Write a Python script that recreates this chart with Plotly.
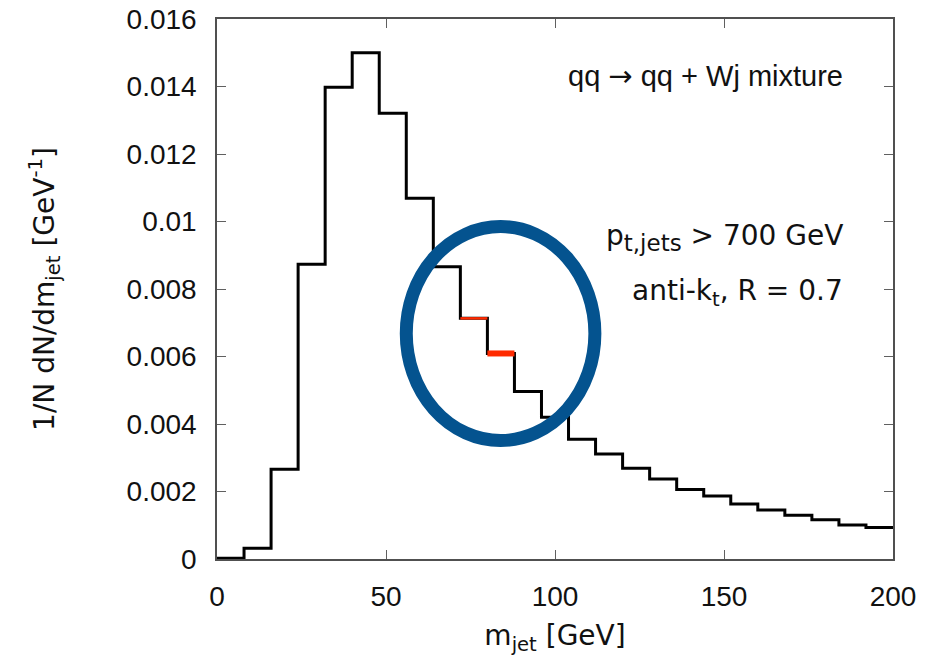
import plotly.graph_objects as go

# bin edges (GeV) and normalised histogram values (1/GeV)
bin_edges = [0, 8, 16, 24, 32, 40, 48, 56, 64, 72, 80, 88, 96, 104, 112, 120,
             128, 136, 144, 152, 160, 168, 176, 184, 192, 200]
values = [0.00002, 0.00032, 0.00266, 0.00873, 0.01398, 0.01500, 0.01321, 0.01069,
          0.00866, 0.00713, 0.00609, 0.00496, 0.00420, 0.00355, 0.00311, 0.00269,
          0.00237, 0.00206, 0.00187, 0.00163, 0.00145, 0.00130, 0.00116, 0.00101,
          0.00093]
highlight_bins = [9, 10]          # bins drawn in red
highlight_widths = [2.5, 6]

x_ticks = [0, 50, 100, 150, 200]
y_ticks = [0, 0.002, 0.004, 0.006, 0.008, 0.01, 0.012, 0.014, 0.016]
y_ticktext = ["0", "0.002", "0.004", "0.006", "0.008", "0.01", "0.012", "0.014", "0.016"]

# highlighting ellipse (data coordinates)
ellipse_x = [56.0, 111.8]
ellipse_y = [0.00351, 0.00985]

ARIAL = "Liberation Sans, Arial, Helvetica, sans-serif"
WIDE = "DejaVu Sans, Verdana, sans-serif"
TXT = "#111111"

fig = go.Figure()
fig.add_trace(go.Scatter(
    x=bin_edges, y=values + [values[-1]],
    mode="lines", line=dict(color="black", width=3, shape="hv"),
    showlegend=False, hoverinfo="skip"))

for b, w in zip(highlight_bins, highlight_widths):
    fig.add_trace(go.Scatter(
        x=[bin_edges[b], bin_edges[b + 1]], y=[values[b], values[b]],
        mode="lines", line=dict(color="#FF2A00", width=w),
        showlegend=False, hoverinfo="skip"))

fig.add_shape(type="circle", xref="x", yref="y",
              x0=ellipse_x[0], x1=ellipse_x[1], y0=ellipse_y[0], y1=ellipse_y[1],
              line=dict(color="#04538F", width=13), layer="above")

axis_common = dict(showgrid=False, zeroline=False, showline=True, mirror="ticks",
                   linecolor="#505050", linewidth=1.5, ticks="inside", ticklen=9,
                   tickwidth=1.2, tickcolor="#606060", automargin=False,
                   tickfont=dict(family=ARIAL, size=28, color=TXT))

fig.update_xaxes(range=[0, 200], tickvals=x_ticks, ticklabelstandoff=12,
                 title=dict(text="m<sub>jet</sub> [GeV]", standoff=14,
                            font=dict(family=WIDE, size=28, color=TXT)),
                 **axis_common)
fig.update_yaxes(range=[0, 0.016], tickvals=y_ticks, ticktext=y_ticktext,
                 ticklabelstandoff=13,
                 title=dict(text="1/N dN/dm<sub>jet</sub> [GeV<sup>-1</sup>]", standoff=64,
                            font=dict(family=WIDE, size=28, color=TXT)),
                 **axis_common)

fig.add_annotation(x=0.929, y=0.894, xref="paper", yref="paper", xanchor="right",
                   yanchor="middle", showarrow=False,
                   font=dict(family=ARIAL, size=29, color=TXT),
                   text="qq <span style='font-family:DejaVu Sans'>→</span> qq + Wj mixture")
fig.add_annotation(x=0.929, y=0.596, xref="paper", yref="paper", xanchor="right",
                   yanchor="middle", showarrow=False,
                   font=dict(family=WIDE, size=28, color=TXT),
                   text="p<sub><span style='font-size:23px'>t,jets</span></sub> > 700 GeV")
fig.add_annotation(x=0.929, y=0.494, xref="paper", yref="paper", xanchor="right",
                   yanchor="middle", showarrow=False,
                   font=dict(family=WIDE, size=28, color=TXT),
                   text="anti-k<sub>t</sub>, R = 0.7")

fig.update_layout(width=939, height=668, plot_bgcolor="white", paper_bgcolor="white",
                  margin=dict(l=217, r=46, t=19, b=109, autoexpand=False),
                  showlegend=False)

fig.write_html("out.html", config={"displayModeBar": False},
               post_script="document.body.style.margin='0';document.body.style.overflow='hidden';")
